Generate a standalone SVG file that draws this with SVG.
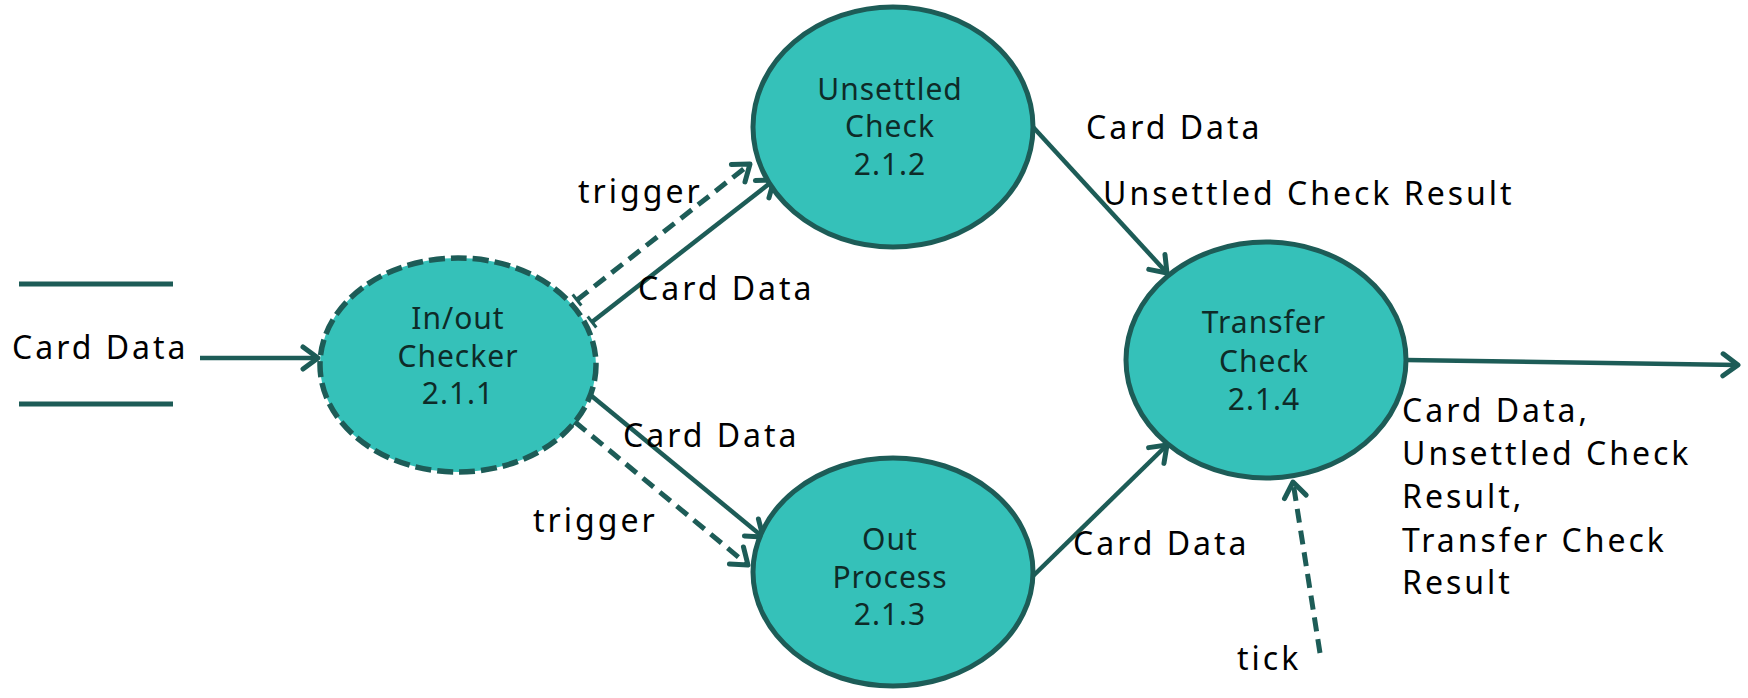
<svg xmlns="http://www.w3.org/2000/svg" width="1748" height="698" viewBox="0 0 1748 698">
<style>
.node{fill:#35C1B9;stroke:#1D5C57;stroke-width:5}
.dnode{fill:#35C1B9;stroke:#1D5C57;stroke-width:5.5;stroke-dasharray:16 6}
.nt{font-family:"Noto Sans","Open Sans","DejaVu Sans",sans-serif;font-size:30px;fill:#0E2B28;text-anchor:middle;letter-spacing:1px}
.lb{font-family:"Noto Sans","Open Sans","DejaVu Sans",sans-serif;font-size:32px;fill:#000;letter-spacing:3px}
.ln{fill:none;stroke:#1D5C57;stroke-width:4.5}
.dl{fill:none;stroke:#1D5C57;stroke-width:5;stroke-dasharray:14 8}
.st{stroke:#1D5C57;stroke-width:5}
</style>
<defs>
<marker id="arr" viewBox="-20 -14 24 28" refX="0" refY="0" markerWidth="24" markerHeight="28" markerUnits="userSpaceOnUse" orient="auto">
<path d="M-15,-11 L0,0 L-15,11" fill="none" stroke="#1D5C57" stroke-width="5" stroke-linecap="round" stroke-linejoin="round"/>
</marker>
<marker id="tick" viewBox="-3 -9 6 18" refX="0" refY="0" markerWidth="6" markerHeight="18" markerUnits="userSpaceOnUse" orient="auto">
<path d="M0,-7 L0,7" stroke="#1D5C57" stroke-width="3"/>
</marker>
</defs>
<rect width="1748" height="698" fill="#fff"/>

<g id="store">
<line class="st" x1="19" y1="284" x2="173" y2="284"/>
<line class="st" x1="19" y1="404" x2="173" y2="404"/>
<text class="lb" x="12" y="359">Card Data</text>
</g>

<g id="connectors">
<path class="ln" d="M200,358 L318,358" marker-end="url(#arr)"/>
<path class="dl" d="M577,300 L750,164" marker-start="url(#tick)" marker-end="url(#arr)"/>
<path class="ln" d="M592,322 L774,180" marker-start="url(#tick)" marker-end="url(#arr)"/>
<path class="ln" d="M588,393 L763,537" marker-start="url(#tick)" marker-end="url(#arr)"/>
<path class="dl" d="M575,422 L748,565" marker-start="url(#tick)" marker-end="url(#arr)"/>
<path class="ln" d="M1033,127 L1167,273" marker-end="url(#arr)"/>
<path class="ln" d="M1032,577 L1167,445" marker-end="url(#arr)"/>
<path class="dl" d="M1320,653 L1293,482" marker-end="url(#arr)"/>
<path class="ln" d="M1406,360 L1738,365" marker-end="url(#arr)"/>
<text class="lb" x="578" y="203">trigger</text>
<text class="lb" x="638" y="300">Card Data</text>
<text class="lb" x="623" y="447">Card Data</text>
<text class="lb" x="533" y="532">trigger</text>
<text class="lb" x="1086" y="139">Card Data</text>
<text class="lb" x="1103" y="205">Unsettled Check Result</text>
<text class="lb" x="1073" y="555">Card Data</text>
<text class="lb" x="1237" y="670">tick</text>
<text class="lb" x="1402" y="422">Card Data,</text>
<text class="lb" x="1402" y="465">Unsettled Check</text>
<text class="lb" x="1402" y="508">Result,</text>
<text class="lb" x="1402" y="552">Transfer Check</text>
<text class="lb" x="1402" y="594">Result</text>
</g>

<g id="n211">
<ellipse class="dnode" cx="458" cy="365" rx="138" ry="107"/>
<text class="nt" x="458" y="329">In/out</text>
<text class="nt" x="458" y="367">Checker</text>
<text class="nt" x="458" y="404">2.1.1</text>
</g>

<g id="n212">
<ellipse class="node" cx="893" cy="127" rx="140" ry="120"/>
<text class="nt" x="890" y="100">Unsettled</text>
<text class="nt" x="890" y="137">Check</text>
<text class="nt" x="890" y="175">2.1.2</text>
</g>

<g id="n213">
<ellipse class="node" cx="893" cy="572" rx="140" ry="114"/>
<text class="nt" x="890" y="550">Out</text>
<text class="nt" x="890" y="588">Process</text>
<text class="nt" x="890" y="625">2.1.3</text>
</g>

<g id="n214">
<ellipse class="node" cx="1266" cy="360" rx="140" ry="118"/>
<text class="nt" x="1264" y="333">Transfer</text>
<text class="nt" x="1264" y="372">Check</text>
<text class="nt" x="1264" y="410">2.1.4</text>
</g>
</svg>
